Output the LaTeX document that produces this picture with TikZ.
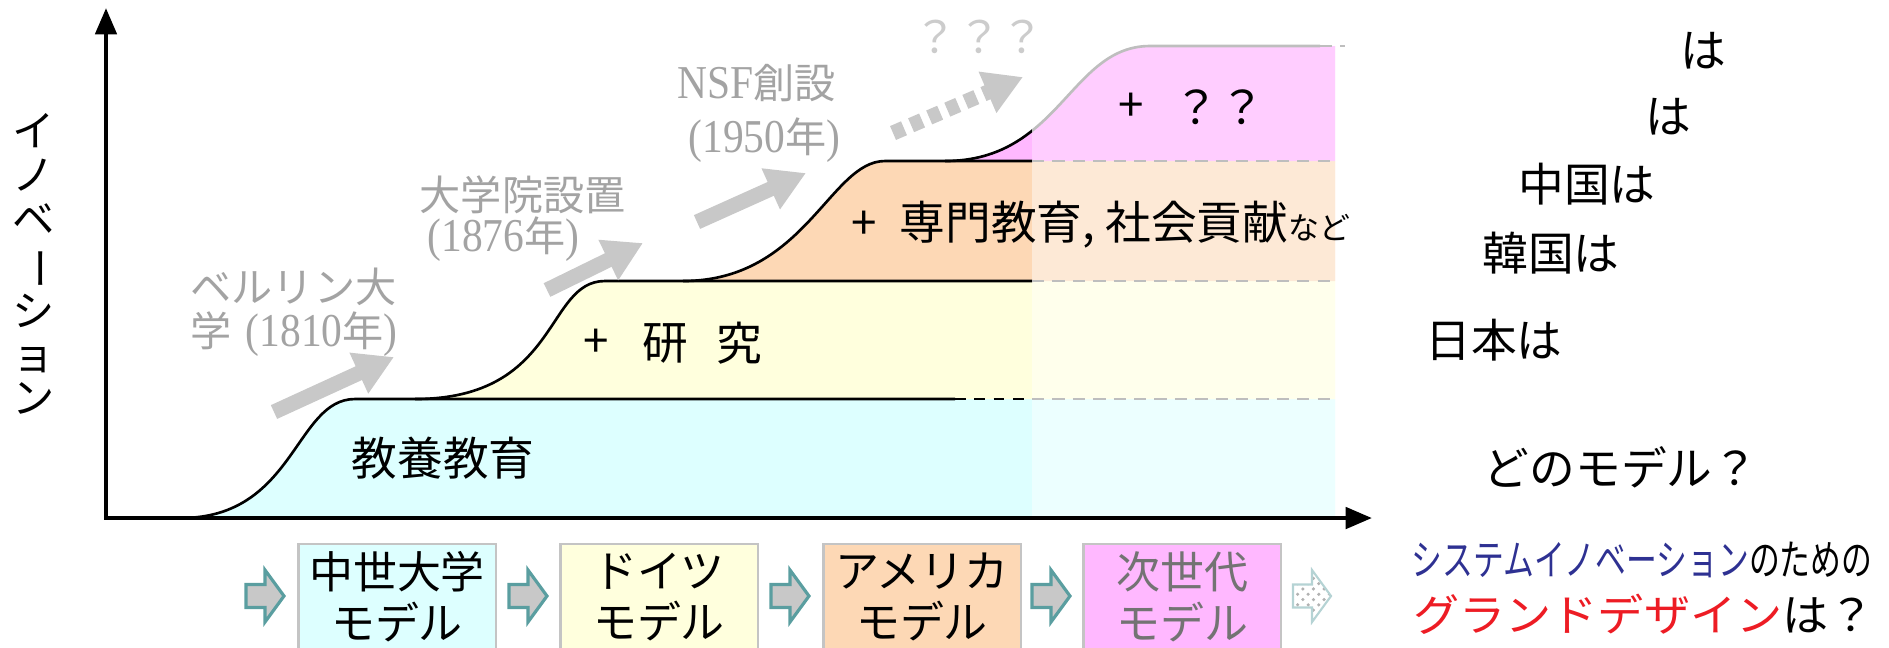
\documentclass[tikz,border=0pt]{standalone}
\usepackage{fontspec}
\setmainfont{Noto Sans CJK JP}
\newfontfamily\jp{Noto Sans CJK JP}
\newfontfamily\jpnarrow{Noto Sans CJK JP}[FakeStretch=0.73]
\newfontfamily\jpwide{Noto Sans CJK JP}[FakeStretch=1.05]
\newfontfamily\tms{Liberation Serif}[FakeStretch=0.88]
\newcommand{\tnum}[1]{{\tms\fontsize{13.4}{15}\selectfont #1}}
\usetikzlibrary{arrows.meta,patterns}
\definecolor{cyanF}{HTML}{DDFFFF}
\definecolor{yelF}{HTML}{FFFFDD}
\definecolor{oraF}{HTML}{FDD8B5}
\definecolor{pinkF}{HTML}{FFB8FF}
\definecolor{labgray}{HTML}{A3A3A3}
\definecolor{qgray}{HTML}{CCCCCC}
\definecolor{arrgray}{HTML}{C8C8C8}
\definecolor{linegray}{HTML}{BEBEBE}
\definecolor{boxgray}{HTML}{C4C4C4}
\definecolor{arrteal}{HTML}{5A9EA0}
\definecolor{sysblue}{HTML}{2E3192}
\definecolor{gdred}{HTML}{ED1C24}
\begin{document}
\begin{tikzpicture}[x=0.01cm,y=-0.01cm,
  blk/.style={line width=0.75pt, black},
  gline/.style={line width=0.75pt, linegray},
  gdash/.style={line width=0.75pt, linegray, dash pattern=on 3.5pt off 2.3pt},
  garrow/.style={line width=4.3pt, arrgray, -{Triangle[length=11pt,width=12pt]}},
  axisline/.style={line width=1.3pt, {Triangle[length=7.5pt,width=6pt]}-{Triangle[length=7.5pt,width=6pt]}},
  bandtxt/.style={font={\jp\fontsize{13}{15}\selectfont}, inner sep=0pt},
  labtxt/.style={font={\jp\fontsize{11.7}{13}\selectfont}, text=labgray, inner sep=0pt, anchor=west},
  righttxt/.style={font={\jp\fontsize{13}{15}\selectfont}, inner sep=0pt},
  mbox/.style={draw=boxgray, line width=0.6pt, minimum width=1.97cm, minimum height=1.3cm, anchor=north, inner sep=0pt},
  btxt/.style={font={\jp\fontsize{12.5}{14.5}\selectfont}, align=center, inner sep=0pt},
  blockarr/.pic={\draw[arrteal, fill=arrgray, line width=0.9pt, line join=miter]
     (-19,-11.5) -- (0,-11.5) -- (0,-26) -- (19,0) -- (0,26) -- (0,11.5) -- (-19,11.5) -- cycle;},
  blockarrp/.pic={\draw[arrteal!45, pattern=crosshatch dots, pattern color=gray!60, line width=0.6pt, line join=miter]
     (-19,-11.5) -- (0,-11.5) -- (0,-26) -- (19,0) -- (0,26) -- (0,11.5) -- (-19,11.5) -- cycle;},
]
\useasboundingbox (0,0) rectangle (1889,647);
\clip (0,0) rectangle (1889,647);

% ---- band fills
\fill[cyanF] (181,518) .. controls (295,518) and (295,399) .. (355,399) -- (1335,399) -- (1335,518) -- cycle;
\fill[yelF] (415,399) .. controls (560,399) and (545,281) .. (605,281) -- (1335,281) -- (1335,399) -- cycle;
\fill[oraF] (683,281) .. controls (805,281) and (830,161) .. (885,161) -- (1335,161) -- (1335,281) -- cycle;
\fill[pinkF] (945,161) .. controls (1060,161) and (1070,46) .. (1150,46) -- (1335,46) -- (1335,161) -- cycle;
\fill[white, opacity=0.3] (1032,40) rectangle (1335,161);
\fill[white, opacity=0.45] (1032,161) rectangle (1335,518);

% ---- band outlines
\draw[blk] (181,518) .. controls (295,518) and (295,399) .. (355,399) -- (955,399);
\draw[blk, dash pattern=on 3pt off 2.5pt] (955,399) -- (1032,399);
\draw[gdash] (1032,399) -- (1335,399);
\draw[blk] (415,399) .. controls (560,399) and (545,281) .. (605,281) -- (1032,281);
\draw[gdash] (1032,281) -- (1335,281);
\draw[blk] (683,281) .. controls (805,281) and (830,161) .. (885,161) -- (1032,161);
\draw[gdash] (1032,161) -- (1335,161);
\begin{scope}
  \clip (0,0) rectangle (1032,647);
  \draw[blk] (945,161) .. controls (1060,161) and (1070,46) .. (1150,46);
\end{scope}
\begin{scope}
  \clip (1032,0) rectangle (1889,647);
  \draw[gline] (945,161) .. controls (1060,161) and (1070,46) .. (1150,46) -- (1320,46);
\end{scope}
\draw[gdash] (1320,46) -- (1345,46);

% ---- axes
\coordinate (O) at (106,518);
\coordinate (Ytip) at (106,8);
\coordinate (Xtip) at (1372,518);
\draw[axisline] (Ytip) -- (O) -- (Xtip);
\node[font={\jp\fontsize{12}{12.5}\selectfont}, align=center, inner sep=0pt] (ylab) at (34,264)
  {イ\\ノ\\ベ\\\rotatebox[origin=c]{-90}{ー}\\シ\\ョ\\ン};

% ---- band labels
\node[bandtxt] (kyoyo) at (443,458) {教養教育};
\node[bandtxt] (plusA) at (596,343) {+};
\node[bandtxt] (ken) at (665,343) {研};
\node[bandtxt] (kyu) at (739,343) {究};
\node[bandtxt] (plusB) at (864,225) {+};
\node[bandtxt, anchor=west] (senmon) at (899,225) {専門教育, 社会貢献{\fontsize{8.8}{10}\selectfont など}};
\node[bandtxt] (plusC) at (1131,107) {+};
\node[bandtxt] (qq) at (1219,107) {？？};

% ---- gray history labels
\node[labtxt] (berA) at (190,287) {ベルリン大};
\node[labtxt] (berB) at (190,334) {学\hspace{4pt}\tnum{(1810}年\tnum{)}};
\node[labtxt] (grad) at (419,195) {大学院設置};
\node[labtxt] (gradY) at (427,239) {\tnum{(1876}年\tnum{)}};
\node[labtxt] (nsf) at (677,83) {\tnum{NSF}創設};
\node[labtxt] (nsfY) at (688,140) {\tnum{(1950}年\tnum{)}};
\node[font={\jp\fontsize{12.5}{14}\selectfont}, text=qgray, inner sep=0pt] (qqq) at (979,37) {？？？};

% ---- gray arrows
\coordinate (a1s) at (274,412); \coordinate (a1e) at (394,357);
\coordinate (a2s) at (547,290); \coordinate (a2e) at (643,243);
\coordinate (a3s) at (697,222); \coordinate (a3e) at (806,173);
\coordinate (a4s) at (893,133); \coordinate (a4e) at (1023,77);
\draw[garrow] (a1s) -- (a1e);
\draw[garrow] (a2s) -- (a2e);
\draw[garrow] (a3s) -- (a3e);
\draw[garrow, dash pattern=on 3.4pt off 2.2pt] (a4s) -- (a4e);

% ---- right side texts
\node[righttxt] (ha1) at (1703,51) {は};
\node[righttxt] (ha2) at (1668,117) {は};
\node[righttxt] (china) at (1587,184) {中国は};
\node[righttxt] (korea) at (1551,253) {韓国は};
\node[righttxt] (japan) at (1494,340) {日本は};
\node[righttxt] (which) at (1621,467) {どのモデル？};
\node[font={\jpnarrow\fontsize{12}{14}\selectfont}, inner sep=0pt] (sysl) at (1642,560)
  {\textcolor{sysblue}{システムイノベーション}のための};
\node[font={\jpwide\fontsize{12.5}{14}\selectfont}, inner sep=0pt] (gdl) at (1644,614)
  {\textcolor{gdred}{グランドデザイン}は？};

% ---- bottom model boxes
\node[mbox, fill=cyanF] (b1) at (397,543) {};
\node[mbox, fill=yelF] (b2) at (659,543) {};
\node[mbox, fill=oraF] (b3) at (922,543) {};
\node[mbox, fill=pinkF] (b4) at (1182,543) {};
\node[btxt] (t1) at (397,597) {中世大学\\モデル};
\node[btxt] (t2) at (659,597) {ドイツ\\モデル};
\node[btxt] (t3) at (922,597) {アメリカ\\モデル};
\node[btxt, text=gray!90!black] (t4) at (1182,597) {次世代\\モデル};
\pic (p1) at (265,596) {blockarr};
\pic (p2) at (528,596) {blockarr};
\pic (p3) at (790,596) {blockarr};
\pic (p4) at (1051,596) {blockarr};
\pic (p5) at (1312,596) {blockarrp};
\end{tikzpicture}
\end{document}
